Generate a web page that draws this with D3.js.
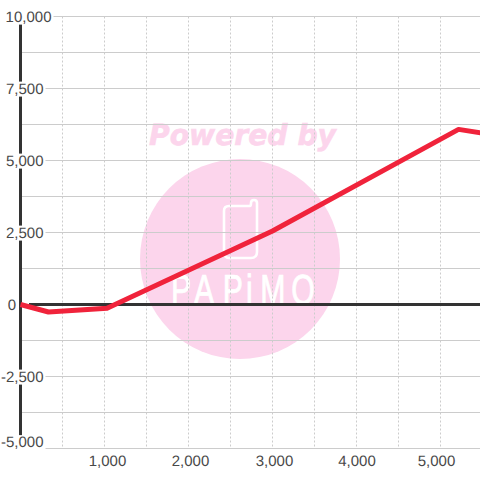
<!DOCTYPE html>
<html><head><meta charset="utf-8">
<style>html,body{margin:0;padding:0;background:#fff}svg{display:block}text{font-family:"Liberation Sans",Arial,sans-serif;text-rendering:geometricPrecision}</style>
<script src="https://cdnjs.cloudflare.com/ajax/libs/d3/7.8.5/d3.min.js"></script>
</head><body><svg id="c" width="480" height="480"></svg>
<script>
const seriesX = [0, 333, 1030, 3000, 5215, 5480];
const seriesY = [0, -260, -130, 2550, 6080, 5960];
const yLabelTicks = [10000, 7500, 5000, 2500, 0, -2500, -5000];
const yMinorTicks = [8750, 6250, 3750, 1250, -1250, -3750];
const xLabelTicks = [1000, 2000, 3000, 4000, 5000];
const xGridTicks = [500,1000,1500,2000,2500,3000,3500,4000,4500,5000];

const svg = d3.select("#c");
const x = d3.scaleLinear().domain([0, 5000]).range([20.5, 440.5]);
const y = d3.scaleLinear().domain([-5000, 10000]).range([448.5, 16.5]);
const fmt = d => d3.format(",")(d).replace("\u2212", "-");
const ink = "#484848", gridC = "#ccc", dark = "#333", pink = "#fcd5ec";

// watermark
const wm = svg.append("g");
wm.append("circle").attr("cx",240).attr("cy",259).attr("r",100).attr("fill",pink);
wm.append("text").text("Powered by").attr("x",149).attr("y",145)
  .attr("textLength",187).attr("lengthAdjust","spacingAndGlyphs")
  .style("font-family","'DejaVu Sans'").style("font-weight","bold").style("font-style","italic")
  .style("font-size","29px").attr("fill",pink).attr("stroke",pink).attr("stroke-width",0.6);
wm.append("path").attr("d","M229 206H250Q251 206 251 203Q251 200 254 200Q257 200 257 203V252Q257 258 251 258H229Q224 258 224 252V211Q224 206 229 206Z")
  .attr("fill","none").attr("stroke","#fff").attr("stroke-width",2.6);
wm.append("text").text("PAPiMO").attr("transform","translate(171,304) scale(0.72,1)")
  .attr("x","0 32 72 104 124 167").attr("y",0)
  .style("font-family","'Liberation Sans'").style("font-size","42px")
  .attr("fill","#fff").attr("stroke","#fff").attr("stroke-width",0.8);

// vertical grid
const gridV = svg.append("g").attr("transform","translate(0,16.5)")
  .call(d3.axisBottom(x).offset(0).tickValues(xGridTicks).tickSize(432).tickFormat(""));
gridV.select(".domain").remove();
gridV.selectAll("line").attr("stroke",gridC).attr("stroke-dasharray","2,2");

// minor horizontal grid
svg.append("g").selectAll("line").data(yMinorTicks).join("line")
  .attr("x1",22).attr("x2",480).attr("y1",d=>y(d)).attr("y2",d=>y(d)).attr("stroke",gridC);

// y axis line
svg.append("line").attr("x1",20.5).attr("x2",20.5).attr("y1",24).attr("y2",436)
  .attr("stroke",dark).attr("stroke-width",3);

// y labels through axis
const yAx = svg.append("g")
  .call(d3.axisLeft(y).offset(0).tickValues(yLabelTicks).tickSize(0).tickFormat(fmt));
yAx.select(".domain").remove();
yAx.selectAll("text").attr("x",d=>d===10000?51.5:(d===0?16:43.5))
  .attr("dy","0.34em")
  .attr("y",d=>d===-5000?-6.5:0)
  .attr("text-anchor","end").attr("fill",ink)
  .style("font-size","15px").style("font-family","'Liberation Sans'");
yAx.selectAll(".tick").each(function(d){
  const t = d3.select(this), b = t.select("text").node().getBBox();
  if(d!==0) t.insert("rect","text").attr("x",b.x-1).attr("y",b.y+1).attr("width",b.width+2).attr("height",b.height-2).attr("fill","#fff");
  const sx = d===0 ? 29 : b.x+b.width+2;
  t.insert("line","rect").attr("x1",sx).attr("x2",480).attr("y1",0).attr("y2",0)
    .attr("stroke",d===0?dark:gridC).attr("stroke-width",d===0?3:1);
});

// x labels
const xAx = svg.append("g").attr("transform","translate(0,452)")
  .call(d3.axisBottom(x).offset(0).tickValues(xLabelTicks).tickSize(0).tickFormat(fmt));
xAx.select(".domain").remove();
const xNudge = {1000:3,2000:2,3000:2,4000:0.5,5000:-4};
xAx.selectAll("text").attr("dx",d=>xNudge[d]).attr("y",3).attr("dy","0.71em").attr("fill",ink)
  .style("font-size","15px").style("font-family","'Liberation Sans'");

// series
const line = d3.line().x(d=>x(d[0])).y(d=>y(d[1]));
svg.append("path").datum(seriesX.map((v,i)=>[v,seriesY[i]])).attr("d",line)
  .attr("fill","none").attr("stroke","#f0233b").attr("stroke-width",5).attr("stroke-linejoin","round");
</script></body></html>
